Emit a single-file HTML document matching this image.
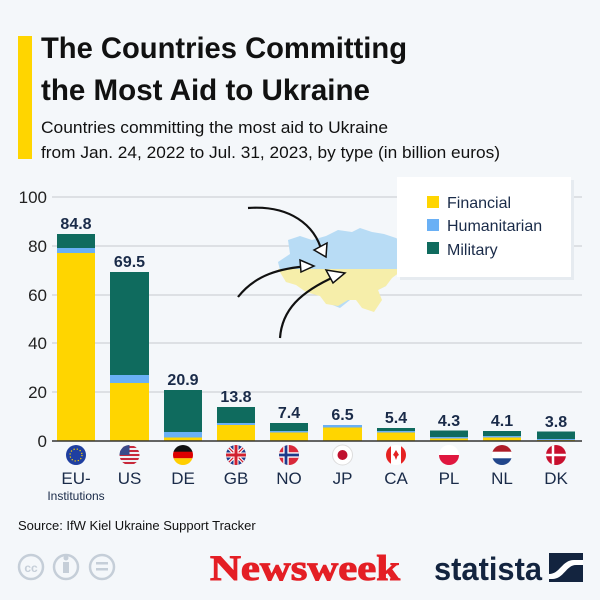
<!DOCTYPE html>
<html><head><meta charset="utf-8"><style>
html,body{margin:0;padding:0;background:#f4f7fa}
svg{display:block;font-family:"Liberation Sans",sans-serif}
</style></head><body>
<svg width="600" height="600" viewBox="0 0 600 600" xmlns="http://www.w3.org/2000/svg">
<defs><clipPath id="c"><circle cx="0" cy="0" r="10"/></clipPath></defs>
<rect width="600" height="600" fill="#f4f7fa"/>
<rect x="18" y="36" width="14" height="123" fill="#ffd500"/>
<text x="41" y="58" font-size="30" font-weight="bold" fill="#111" textLength="366" lengthAdjust="spacingAndGlyphs">The Countries Committing</text>
<text x="41" y="100" font-size="30" font-weight="bold" fill="#111" textLength="329" lengthAdjust="spacingAndGlyphs">the Most Aid to Ukraine</text>
<text x="41" y="133" font-size="17" fill="#111" textLength="347" lengthAdjust="spacingAndGlyphs">Countries committing the most aid to Ukraine</text>
<text x="41" y="158" font-size="17" fill="#111" textLength="459" lengthAdjust="spacingAndGlyphs">from Jan. 24, 2022 to Jul. 31, 2023, by type (in billion euros)</text>

<g stroke="#cfd3d8" stroke-width="1.2">
<line x1="52" y1="197" x2="582" y2="197"/><line x1="52" y1="246" x2="582" y2="246"/>
<line x1="52" y1="295" x2="582" y2="295"/><line x1="52" y1="343" x2="582" y2="343"/>
<line x1="52" y1="392" x2="582" y2="392"/>
</g>
<g font-size="17" fill="#222" text-anchor="end">
<text x="47" y="203">100</text><text x="47" y="252">80</text><text x="47" y="301">60</text>
<text x="47" y="349">40</text><text x="47" y="398">20</text><text x="47" y="447">0</text>
</g>

<!-- Ukraine map -->
<path d="M288,240 L300,236 L312,240 L326,236 L338,230 L352,232 L360,228 L372,232 L384,234 L396,238 L408,246 L414,256 L414,270 L400,270 L390,274 L386,286 L378,290 L380,298 L370,302 L364,298 L350,300 L340,308 L330,304 L322,294 L308,290 L300,284 L286,282 L280,270 L278,262 L290,254 Z" fill="#b8dcf5"/>
<path d="M278,269 L414,269 L414,272 L400,272 L392,278 L386,286 L378,290 L382,300 L374,312 L362,308 L356,300 L348,300 L338,306 L326,304 L320,296 L306,292 L296,285 L286,282 Z" fill="#f6eeaa"/>
<g fill="none" stroke="#111" stroke-width="2.2">
<path d="M248,208 C290,205 315,225 322,252"/>
<path d="M238,297 C255,275 280,268 310,266"/>
<path d="M280,338 C282,310 300,292 336,276"/>
</g>
<g fill="#fff" stroke="#111" stroke-width="1.5">
<path d="M314,250 L326,257 L327,243 Z"/>
<path d="M300,260 L314,266 L301,272 Z"/>
<path d="M326,270 L345,273 L333,283 Z"/>
</g>

<!-- legend -->
<rect x="400" y="180" width="174" height="100" fill="#e6ebf0"/>
<rect x="397" y="177" width="174" height="100" fill="#fff"/>
<rect x="427" y="196" width="12" height="12" fill="#ffd500"/>
<rect x="427" y="219" width="12" height="12" fill="#6ab0f5"/>
<rect x="427" y="242" width="12" height="12" fill="#0f6b5e"/>
<g font-size="16" fill="#1a2b49">
<text x="447" y="208">Financial</text><text x="447" y="231">Humanitarian</text><text x="447" y="255">Military</text>
</g>

<!-- bars: F,H,M -->
<g>
<rect x="57" y="253" width="38" height="188" fill="#ffd500"/><rect x="57" y="248" width="38" height="5" fill="#6ab0f5"/><rect x="57" y="234" width="38" height="14" fill="#0f6b5e"/>
<rect x="110" y="383" width="39" height="58" fill="#ffd500"/><rect x="110" y="375" width="39" height="8" fill="#6ab0f5"/><rect x="110" y="272" width="39" height="103" fill="#0f6b5e"/>
<rect x="164" y="437.5" width="38" height="3.5" fill="#ffd500"/><rect x="164" y="432" width="38" height="5.5" fill="#6ab0f5"/><rect x="164" y="390" width="38" height="42" fill="#0f6b5e"/>
<rect x="217" y="425" width="38" height="16" fill="#ffd500"/><rect x="217" y="423" width="38" height="2" fill="#6ab0f5"/><rect x="217" y="407" width="38" height="16" fill="#0f6b5e"/>
<rect x="270" y="432.5" width="38" height="8.5" fill="#ffd500"/><rect x="270" y="431" width="38" height="1.5" fill="#6ab0f5"/><rect x="270" y="423" width="38" height="8" fill="#0f6b5e"/>
<rect x="323" y="427.5" width="39" height="13.5" fill="#ffd500"/><rect x="323" y="425" width="39" height="2.5" fill="#6ab0f5"/>
<rect x="377" y="432.5" width="38" height="8.5" fill="#ffd500"/><rect x="377" y="431" width="38" height="1.5" fill="#6ab0f5"/><rect x="377" y="428" width="38" height="3" fill="#0f6b5e"/>
<rect x="430" y="438.5" width="38" height="2.5" fill="#ffd500"/><rect x="430" y="437" width="38" height="1.5" fill="#6ab0f5"/><rect x="430" y="430.5" width="38" height="6.5" fill="#0f6b5e"/>
<rect x="483" y="437.5" width="38" height="3.5" fill="#ffd500"/><rect x="483" y="436" width="38" height="1.5" fill="#6ab0f5"/><rect x="483" y="431" width="38" height="5" fill="#0f6b5e"/>
<rect x="537" y="440" width="38" height="1" fill="#ffd500"/><rect x="537" y="439" width="38" height="1" fill="#6ab0f5"/><rect x="537" y="431.5" width="38" height="7.5" fill="#0f6b5e"/>
</g>
<line x1="52" y1="441" x2="582" y2="441" stroke="#333" stroke-width="1.5"/>
<g font-size="16" font-weight="bold" fill="#1a2b49" text-anchor="middle">
<text x="76" y="229">84.8</text><text x="129.5" y="267">69.5</text><text x="183" y="385">20.9</text>
<text x="236" y="402">13.8</text><text x="289" y="418">7.4</text><text x="342.5" y="420">6.5</text>
<text x="396" y="423">5.4</text><text x="449" y="426">4.3</text><text x="502" y="426">4.1</text><text x="556" y="427">3.8</text>
</g>

<!-- flags -->
<g transform="translate(76,455)" clip-path="url(#c)"><rect x="-10" y="-10" width="20" height="20" fill="#1f3fa0"/><circle r="6" fill="none" stroke="#ffd500" stroke-width="1.2" stroke-dasharray="1.2 2"/></g>
<g transform="translate(129.5,455)" clip-path="url(#c)"><rect x="-10" y="-10" width="20" height="20" fill="#eef1f5"/><g fill="#c8283a"><rect x="-10" y="-9" width="20" height="2"/><rect x="-10" y="-5" width="20" height="2"/><rect x="-10" y="-1" width="20" height="2"/><rect x="-10" y="3" width="20" height="2"/><rect x="-10" y="7" width="20" height="2"/></g><rect x="-10" y="-10" width="10" height="10" fill="#3b4a8a"/></g>
<g transform="translate(183,455)" clip-path="url(#c)"><rect x="-10" y="-10" width="20" height="7" fill="#111"/><rect x="-10" y="-3.3" width="20" height="6.6" fill="#dd0000"/><rect x="-10" y="3.3" width="20" height="7" fill="#ffce00"/></g>
<g transform="translate(236,455)" clip-path="url(#c)"><rect x="-10" y="-10" width="20" height="20" fill="#1e3a8a"/><path d="M-10,-10 L10,10 M10,-10 L-10,10" stroke="#fff" stroke-width="3.5"/><path d="M-10,-10 L10,10 M10,-10 L-10,10" stroke="#d2202f" stroke-width="1.2"/><path d="M0,-10 V10 M-10,0 H10" stroke="#fff" stroke-width="5"/><path d="M0,-10 V10 M-10,0 H10" stroke="#d2202f" stroke-width="3"/></g>
<g transform="translate(289,455)" clip-path="url(#c)"><rect x="-10" y="-10" width="20" height="20" fill="#d8283a"/><path d="M-3,-10 V10 M-10,0 H10" stroke="#fff" stroke-width="5.5"/><path d="M-3,-10 V10 M-10,0 H10" stroke="#1e3a8a" stroke-width="2.8"/></g>
<g transform="translate(342.5,455)"><circle r="10" fill="#fff" stroke="#ddd"/><circle r="5" fill="#c0102e"/></g>
<g transform="translate(396,455)" clip-path="url(#c)"><rect x="-10" y="-10" width="20" height="20" fill="#fff"/><rect x="-10" y="-10" width="5" height="20" fill="#e52222"/><rect x="5" y="-10" width="5" height="20" fill="#e52222"/><path d="M0,-5 L3,0 L1.5,1 L0,5 L-1.5,1 L-3,0 Z" fill="#e52222"/></g>
<g transform="translate(449,455)" clip-path="url(#c)"><rect x="-10" y="-10" width="20" height="10" fill="#fff"/><rect x="-10" y="0" width="20" height="10" fill="#e0173f"/></g>
<g transform="translate(502,455)" clip-path="url(#c)"><rect x="-10" y="-10" width="20" height="7" fill="#ae1c28"/><rect x="-10" y="-3.3" width="20" height="6.6" fill="#fff"/><rect x="-10" y="3.3" width="20" height="7" fill="#21468b"/></g>
<g transform="translate(556,455)" clip-path="url(#c)"><rect x="-10" y="-10" width="20" height="20" fill="#c8102e"/><path d="M-3,-10 V10 M-10,0 H10" stroke="#fff" stroke-width="2.5"/></g>
<g font-size="17" fill="#1a2b49" text-anchor="middle">
<text x="76" y="484">EU-</text><text x="129.5" y="484">US</text><text x="183" y="484">DE</text>
<text x="236" y="484">GB</text><text x="289" y="484">NO</text><text x="342.5" y="484">JP</text>
<text x="396" y="484">CA</text><text x="449" y="484">PL</text><text x="502" y="484">NL</text><text x="556" y="484">DK</text>
<text x="76" y="500" font-size="12">Institutions</text>
</g>

<text x="18" y="530" font-size="13" fill="#111">Source: IfW Kiel Ukraine Support Tracker</text>
<g fill="none" stroke="#c5ced8" stroke-width="2.5">
<circle cx="31" cy="567" r="12"/><circle cx="66" cy="567" r="12"/><circle cx="102" cy="567" r="12"/>
</g>
<text x="31" y="572" font-size="12" font-weight="bold" fill="#c5ced8" text-anchor="middle">cc</text>
<rect x="63" y="562" width="6" height="11" fill="#c5ced8"/><circle cx="66" cy="558" r="2.5" fill="#c5ced8"/>
<rect x="96" y="562" width="12" height="2.5" fill="#c5ced8"/><rect x="96" y="568" width="12" height="2.5" fill="#c5ced8"/>
<text x="210" y="580" font-size="36" font-weight="bold" font-family="Liberation Serif,serif" fill="#e41f25" stroke="#e41f25" stroke-width="1" textLength="190" lengthAdjust="spacingAndGlyphs">Newsweek</text>
<text x="434" y="580" font-size="32" font-weight="bold" fill="#13243f" textLength="108" lengthAdjust="spacingAndGlyphs">statista</text>
<rect x="549" y="553" width="34" height="29" fill="#13243f"/>
<path d="M549,574 C560,574 562,560 574,560 L583,560 L583,565 L576,565 C566,565 564,579 552,579 L549,579 Z" fill="#fff"/>
</svg>
</body></html>
